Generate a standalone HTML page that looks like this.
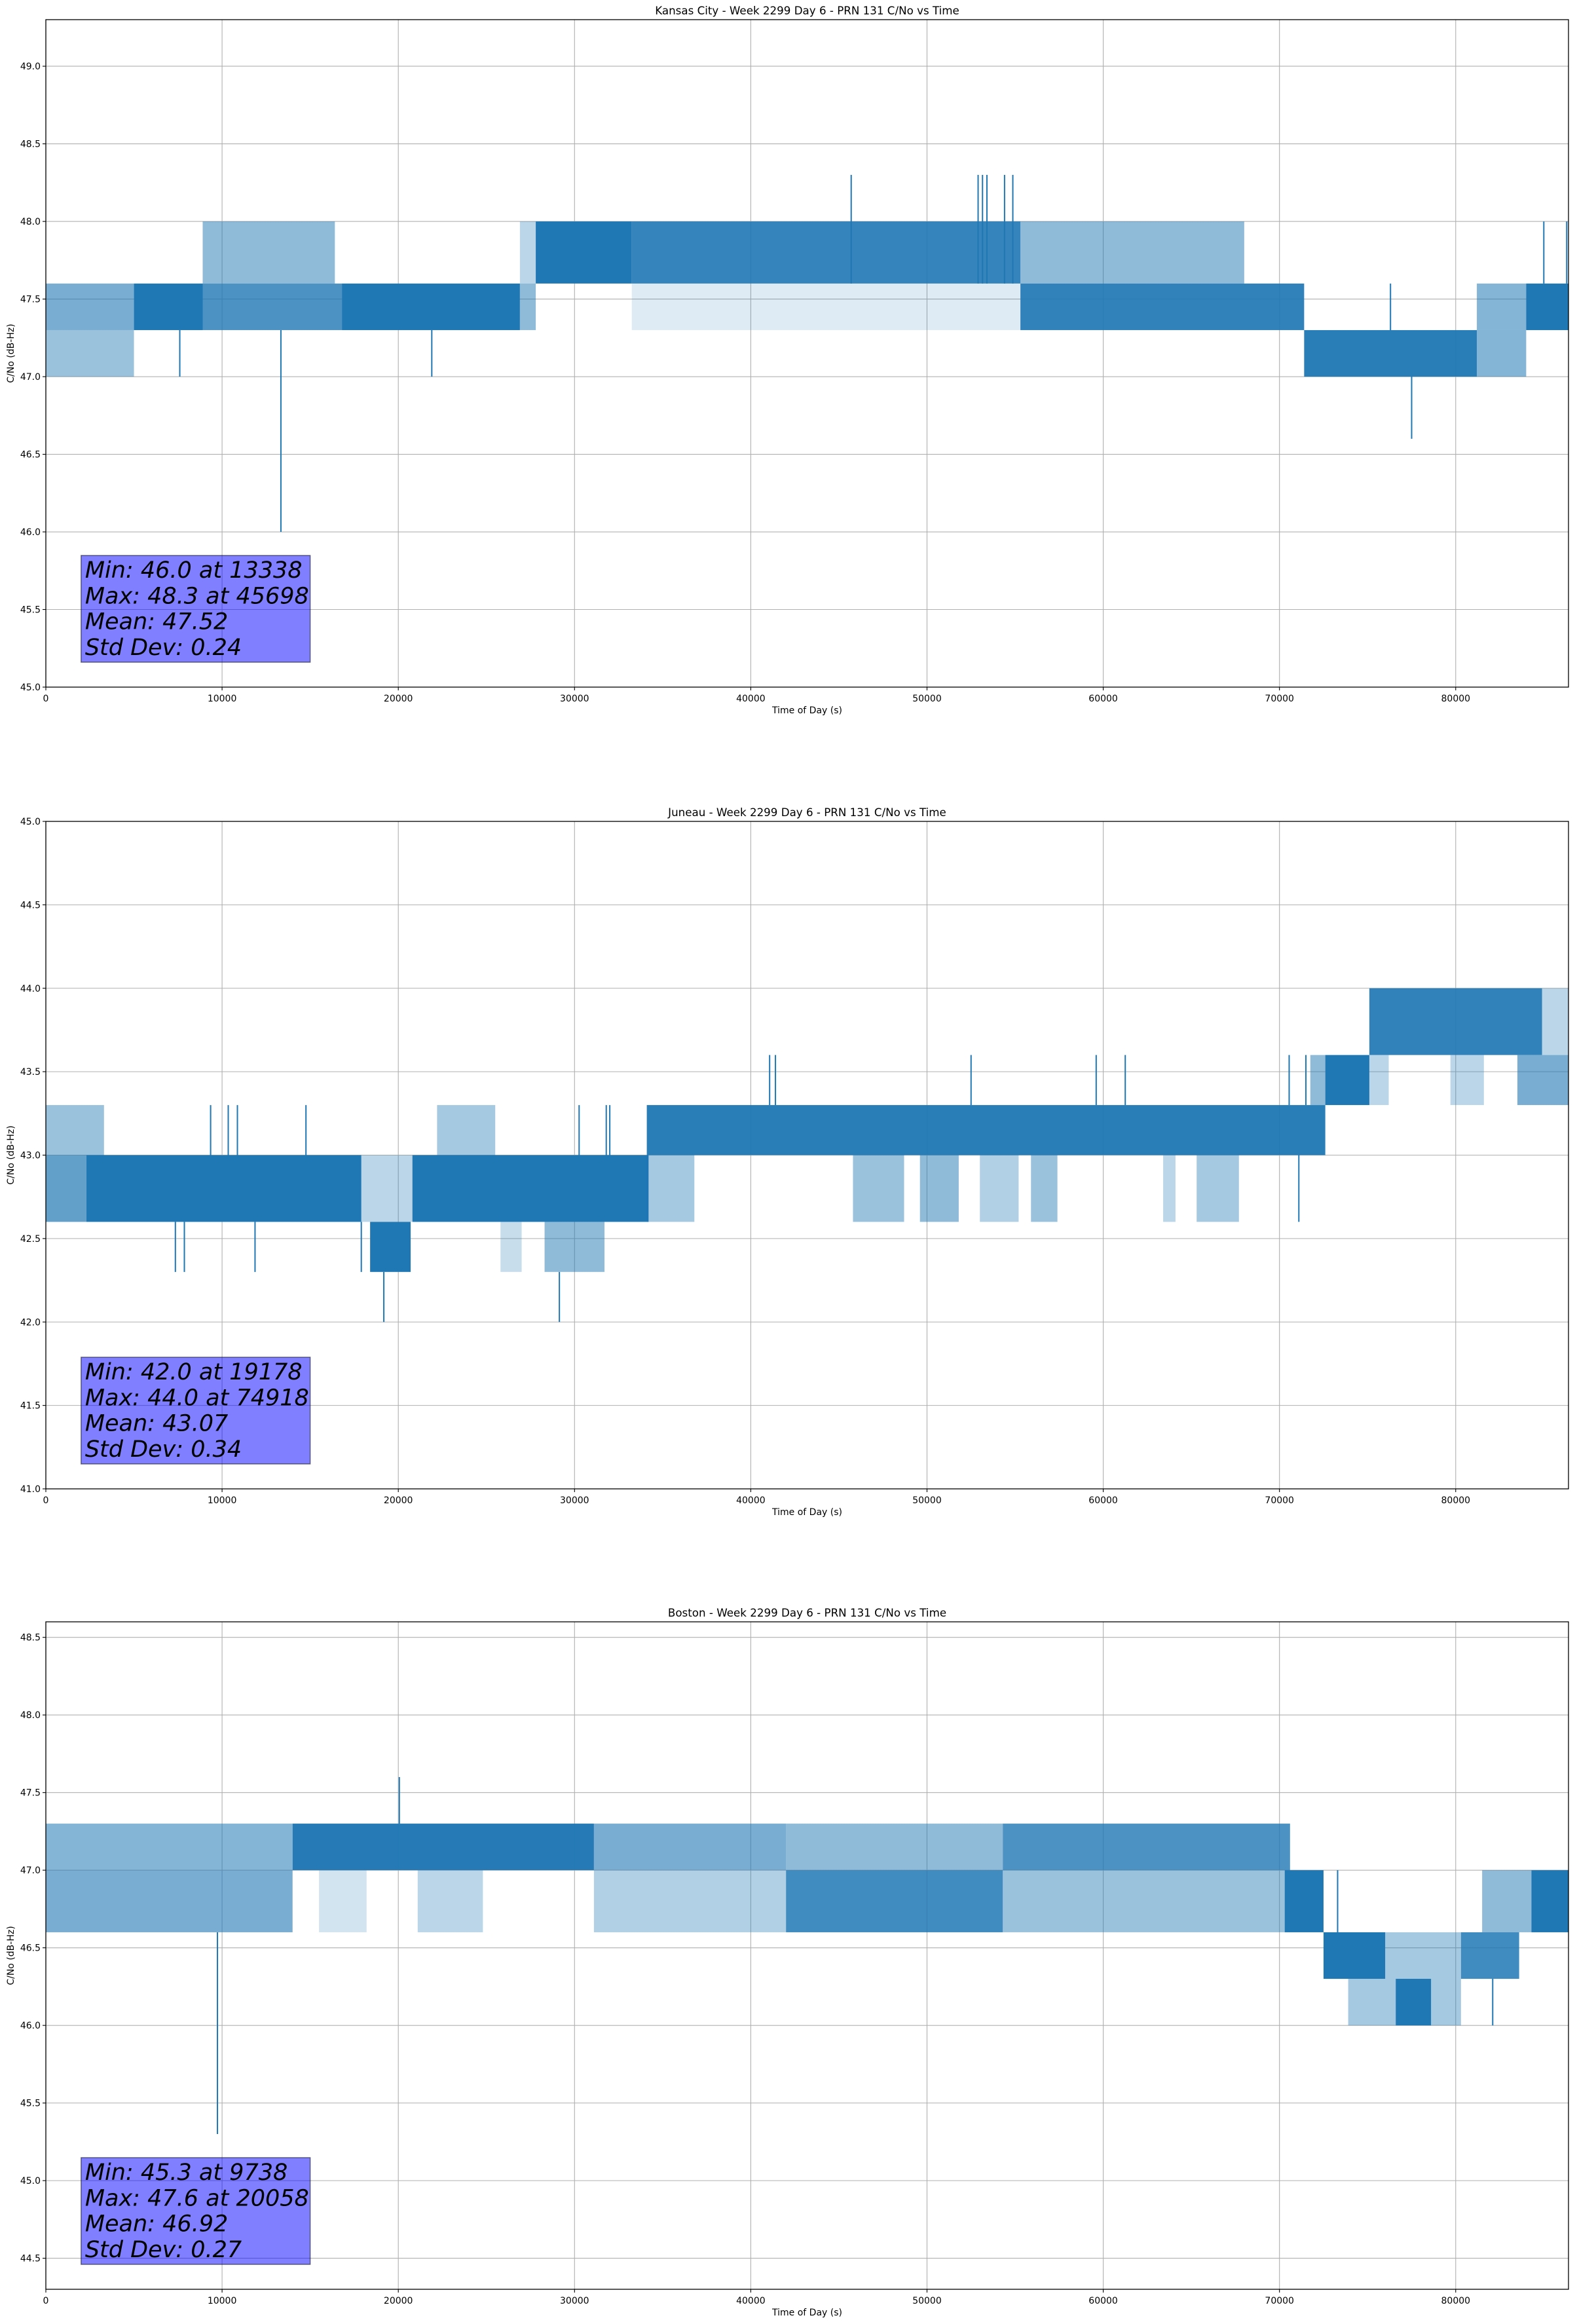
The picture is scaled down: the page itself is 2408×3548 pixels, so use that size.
<!DOCTYPE html>
<html><head><meta charset="utf-8"><title>C/No vs Time</title>
<style>
html,body{margin:0;padding:0;background:#fff;}
svg{display:block;font-family:"DejaVu Sans","Liberation Sans",sans-serif;}
</style></head>
<body>
<svg id="fig" width="2408" height="3548" viewBox="0 0 2408 3548" xmlns="http://www.w3.org/2000/svg"></svg>
<script>
// ---- data (time in s, C/No in dB-Hz) ----
const xTicks = [0,10000,20000,30000,40000,50000,60000,70000,80000];
const titles = ["Kansas City - Week 2299 Day 6 - PRN 131 C/No vs Time",
                "Juneau - Week 2299 Day 6 - PRN 131 C/No vs Time",
                "Boston - Week 2299 Day 6 - PRN 131 C/No vs Time"];
const yRanges = [[45.0,49.3],[41.0,45.0],[44.3,48.6]];
const yTicks1 = [45.0,45.5,46.0,46.5,47.0,47.5,48.0,48.5,49.0];
const yTicks2 = [41.0,41.5,42.0,42.5,43.0,43.5,44.0,44.5,45.0];
const yTicks3 = [44.5,45.0,45.5,46.0,46.5,47.0,47.5,48.0,48.5];
const stats1 = ["Min: 46.0 at 13338","Max: 48.3 at 45698","Mean: 47.52","Std Dev: 0.24"];
const stats2 = ["Min: 42.0 at 19178","Max: 44.0 at 74918","Mean: 43.07","Std Dev: 0.34"];
const stats3 = ["Min: 45.3 at 9738","Max: 47.6 at 20058","Mean: 46.92","Std Dev: 0.27"];
// bands: [tStart, tEnd, low, high, density]
const bands1 = [
 [0,5000,47.3,47.6,0.6],[0,5000,47.0,47.3,0.45],
 [5000,8900,47.3,47.6,1],
 [8900,16800,47.3,47.6,0.8],[8900,16400,47.6,48.0,0.5],
 [16800,26900,47.3,47.6,1],[26900,27800,47.3,47.6,0.5],[26900,27800,47.6,48.0,0.3],
 [27800,33250,47.6,48.0,1],[33250,55300,47.6,48.0,0.9],[33250,55300,47.3,47.6,0.15],
 [55300,71400,47.3,47.6,0.92],[55300,68000,47.6,48.0,0.5],
 [71400,81200,47.0,47.3,0.95],[81200,84000,47.0,47.3,0.55],[81200,84000,47.3,47.6,0.55],
 [84000,86400,47.3,47.6,1]
];
// spikes: [t, low, high]
const spikes1 = [[13338,46.0,47.3],[7600,47.0,47.3],[21900,47.0,47.3],[45698,47.6,48.3],
 [52900,47.6,48.3],[53150,47.6,48.3],[53400,47.6,48.3],[54400,47.6,48.3],[54870,47.6,48.3],
 [77500,46.6,47.0],[76300,47.3,47.6],[85000,47.6,48.0],[86300,47.6,48.0]];
const bands2 = [
 [0,2300,42.6,43.0,0.7],[0,3300,43.0,43.3,0.45],
 [2300,17900,42.6,43.0,1],[17900,20800,42.6,43.0,0.3],[18400,20700,42.3,42.6,1],
 [20800,34200,42.6,43.0,1],[22200,25500,43.0,43.3,0.4],
 [25800,27000,42.3,42.6,0.25],[28300,31700,42.3,42.6,0.5],
 [34100,72600,43.0,43.3,0.95],[34100,36800,42.6,43.0,0.4],
 [45800,48700,42.6,43.0,0.45],[49600,51800,42.6,43.0,0.5],[53000,55200,42.6,43.0,0.35],
 [55900,57400,42.6,43.0,0.45],[63400,64100,42.6,43.0,0.3],[65300,67700,42.6,43.0,0.4],
 [71750,72600,43.3,43.6,0.5],[72600,75100,43.3,43.6,1],
 [75100,84900,43.6,44.0,0.92],[84900,86400,43.6,44.0,0.3],
 [75100,76200,43.3,43.6,0.3],[79700,81600,43.3,43.6,0.3],[83500,86400,43.3,43.6,0.6]
];
const spikes2 = [[19178,42.0,42.3],[29140,42.0,42.3],[7350,42.3,42.6],[7860,42.3,42.6],
 [11870,42.3,42.6],[17900,42.3,42.6],[9350,43.0,43.3],[10350,43.0,43.3],[10870,43.0,43.3],
 [14760,43.0,43.3],[30260,43.0,43.3],[31800,43.0,43.3],[32000,43.0,43.3],
 [41070,43.3,43.6],[41400,43.3,43.6],[52500,43.3,43.6],[59600,43.3,43.6],[61250,43.3,43.6],
 [70550,43.3,43.6],[71500,43.3,43.6],[71100,42.6,43.0]];
const bands3 = [
 [0,14000,47.0,47.3,0.55],[0,14000,46.6,47.0,0.6],
 [14000,31100,47.0,47.3,0.97],[15500,18200,46.6,47.0,0.2],[21100,24800,46.6,47.0,0.3],
 [31100,42000,47.0,47.3,0.6],[31100,42000,46.6,47.0,0.35],
 [42000,54300,46.6,47.0,0.85],[42000,54300,47.0,47.3,0.5],
 [54300,70600,47.0,47.3,0.8],[54300,70600,46.6,47.0,0.45],
 [70300,72500,46.6,47.0,1],
 [72500,76000,46.3,46.6,1],[73900,80300,46.0,46.3,0.4],[76600,78600,46.0,46.3,1],
 [76000,80300,46.3,46.6,0.4],[80300,83600,46.3,46.6,0.85],
 [81500,84300,46.6,47.0,0.5],[84300,86400,46.6,47.0,1]
];
const spikes3 = [[9738,45.3,46.6],[20058,47.3,47.6],[73300,46.6,47.0],[82100,46.0,46.3]];

const allBands=[bands1,bands2,bands3], allSpikes=[spikes1,spikes2,spikes3];
const allYTicks=[yTicks1,yTicks2,yTicks3], allStats=[stats1,stats2,stats3];

// ---- layout ----
const NS="http://www.w3.org/2000/svg";
const svg=document.getElementById('fig');
const L=70,R=2395,H=1019,tops=[30,1254,2476],XMAX=86400,BLUE="#1f77b4";
function mk(tag,attrs,parent){const e=document.createElementNS(NS,tag);for(const k in attrs)e.setAttribute(k,attrs[k]);(parent||svg).appendChild(e);return e;}
const xs=t=>L+(t/XMAX)*(R-L);

for(let c=0;c<3;c++){
  const top=tops[c],bot=top+H,[y0,y1]=yRanges[c];
  const ys=v=>bot-(v-y0)/(y1-y0)*H;
  const g=mk('g',{});
  
  
  xTicks.forEach(t=>{const l=mk('line',{x1:xs(t),x2:xs(t),y1:top,y2:bot,stroke:'#b0b0b0','stroke-width':1.1},g);
    });
  allYTicks[c].forEach(v=>{const l=mk('line',{x1:L,x2:R,y1:ys(v),y2:ys(v),stroke:'#b0b0b0','stroke-width':1.1},g);
    });
  allBands[c].forEach(b=>{const r=mk('rect',{x:xs(b[0]),y:ys(b[3]),width:Math.max(1,xs(b[1])-xs(b[0])),height:ys(b[2])-ys(b[3]),fill:BLUE,'fill-opacity':b[4]},g);
    });
  allSpikes[c].forEach(s=>{const l=mk('line',{x1:xs(s[0]),x2:xs(s[0]),y1:ys(s[1]),y2:ys(s[2]),stroke:BLUE,'stroke-width':2},g);
    });
  const bx=xs(2000),bw=xs(15000)-xs(2000),by=top+818;
  const box=mk('rect',{x:bx,y:by,width:bw,height:163,fill:'rgba(0,0,255,0.5)',stroke:'rgba(0,0,0,0.5)','stroke-width':1.5},g);
  
  allStats[c].forEach((s,i)=>{const t=mk('text',{x:bx+6,y:by+34+i*39.3,'font-size':35,'font-style':'italic',fill:'#000'},g);
    t.textContent=s;});
  const sp=mk('rect',{x:L,y:top,width:R-L,height:H,fill:'none',stroke:'#000','stroke-width':1.3},g);
  
  xTicks.forEach(t=>{mk('line',{x1:xs(t),x2:xs(t),y1:bot,y2:bot+5,stroke:'#000','stroke-width':1.1},g);
    const tx=mk('text',{x:xs(t),y:bot+22,'font-size':14,'text-anchor':'middle',fill:'#000'},g);
    tx.textContent=String(t);});
  allYTicks[c].forEach(v=>{mk('line',{x1:L-5,x2:L,y1:ys(v),y2:ys(v),stroke:'#000','stroke-width':1.1},g);
    const tx=mk('text',{x:L-8,y:ys(v)+5,'font-size':14,'text-anchor':'end',fill:'#000'},g);
    tx.textContent=v.toFixed(1);});
  const tt=mk('text',{x:(L+R)/2,y:top-8,'font-size':16.7,'text-anchor':'middle',fill:'#000'},g);
  tt.textContent=titles[c];
  const xl=mk('text',{x:(L+R)/2,y:bot+40,'font-size':14,'text-anchor':'middle',fill:'#000'},g);
  xl.textContent="Time of Day (s)";
  const yl=mk('text',{x:0,y:0,'font-size':14,'text-anchor':'middle',fill:'#000',transform:`translate(21,${(top+bot)/2}) rotate(-90)`},g);
  yl.textContent="C/No (dB-Hz)";
}
</script>
</body></html>
